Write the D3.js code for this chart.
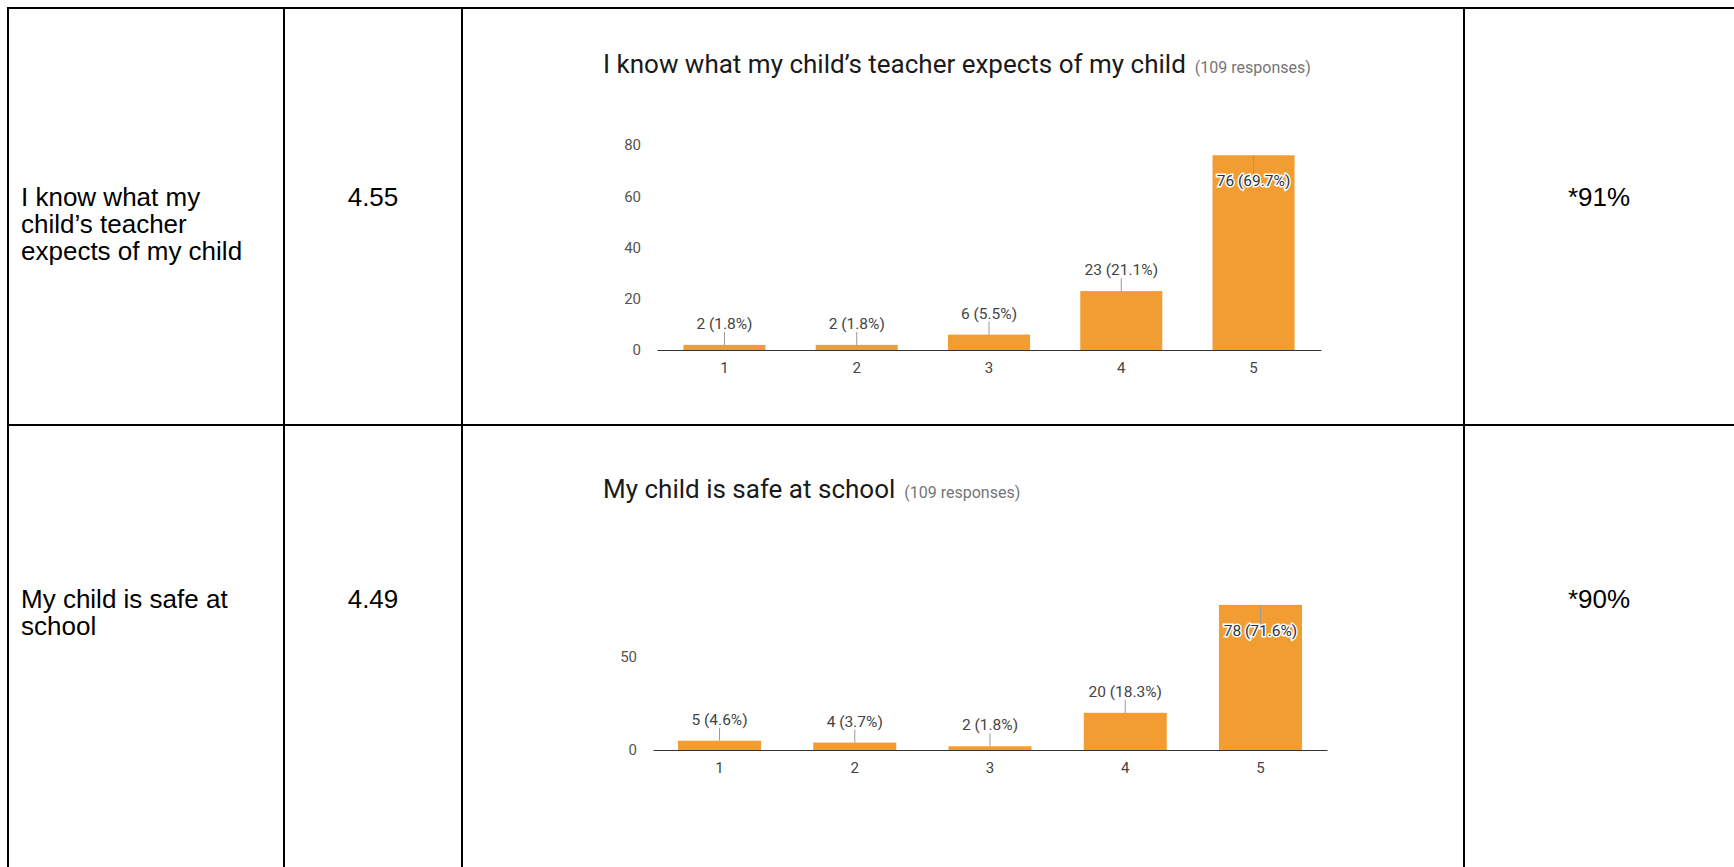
<!DOCTYPE html>
<html>
<head>
<meta charset="utf-8">
<script src="https://cdn.jsdelivr.net/npm/d3@7"></script>
<style>
  body { margin: 0; background: #fff; }
  svg { display: block; }
</style>
</head>
<body>
<script>
// table rows
const statements = [
  ["I know what my", "child’s teacher", "expects of my child"],
  ["My child is safe at", "school"]
];
const means = ["4.55", "4.49"];
const agreeShare = ["*91%", "*90%"];

// chart data
const chartTitles = ["I know what my child’s teacher expects of my child", "My child is safe at school"];
const responses = 109;
const ratings = ["1", "2", "3", "4", "5"];
const countsTeacher = [2, 2, 6, 23, 76];
const countsSafe = [5, 4, 2, 20, 78];
const ticksTeacher = [0, 20, 40, 60, 80];
const ticksSafe = [0, 50];

const width = 1734, height = 867;
const barColor = "#f29d32";

const svg = d3.select("body").append("svg")
    .attr("width", width)
    .attr("height", height);

// grid lines of the table
const colX = [8, 284, 462, 1464];
const rowY = [8, 425];
const grid = svg.append("g").attr("stroke", "#000").attr("stroke-width", 2);
colX.forEach(x => grid.append("line").attr("x1", x).attr("x2", x).attr("y1", 7).attr("y2", height));
rowY.forEach(y => grid.append("line").attr("x1", 7).attr("x2", width).attr("y1", y).attr("y2", y));

// cell text
const cellFont = "'Liberation Sans', Arial, sans-serif";
const firstBaseline = [206, 608];
const lineGap = 27;
statements.forEach((lines, i) => {
    svg.append("g").selectAll("text")
        .data(lines)
        .enter().append("text")
        .attr("x", 21)
        .attr("y", (d, j) => firstBaseline[i] + j * lineGap)
        .style("font", `26px ${cellFont}`)
        .attr("fill", "#000")
        .text(d => d);
    svg.append("text")
        .attr("x", (colX[1] + colX[2]) / 2)
        .attr("y", firstBaseline[i])
        .attr("text-anchor", "middle")
        .style("font", `26px ${cellFont}`)
        .text(means[i]);
    svg.append("text")
        .attr("x", (colX[3] + width) / 2)
        .attr("y", firstBaseline[i])
        .attr("text-anchor", "middle")
        .style("font", `26px ${cellFont}`)
        .text(agreeShare[i]);
});

// one google-forms style bar chart
function drawChart(opt) {
    const g = svg.append("g");
    const x = d3.scaleBand()
        .domain(ratings)
        .range([opt.left, opt.right])
        .paddingInner(opt.padIn)
        .paddingOuter(opt.padOut);
    const y = d3.scaleLinear()
        .domain([0, opt.yMax])
        .range([opt.zero, opt.top]);

    // title + response count
    const title = g.append("text")
        .attr("x", 603)
        .attr("y", opt.titleY)
        .style("font", "26px Roboto, sans-serif")
        .attr("fill", "#1a1a1a")
        .text(opt.title);
    const tw = title.node().getComputedTextLength();
    g.append("text")
        .attr("x", 603 + tw + 9)
        .attr("y", opt.titleY)
        .style("font", "16px Roboto, sans-serif")
        .attr("fill", "#757575")
        .text(`(${responses} responses)`);

    // y axis labels only
    const yAxis = d3.axisLeft(y).tickValues(opt.ticks).tickSize(0).tickPadding(16);
    g.append("g")
        .attr("transform", `translate(${opt.left},0)`)
        .call(yAxis)
        .call(a => a.select(".domain").remove())
        .call(a => a.selectAll("text")
            .style("font", "15px Roboto, sans-serif")
            .attr("fill", "#555"));

    // bars
    g.append("g").selectAll("rect")
        .data(opt.counts)
        .enter().append("rect")
        .attr("x", (d, i) => x(ratings[i]))
        .attr("width", x.bandwidth())
        .attr("y", d => y(d))
        .attr("height", d => opt.zero - y(d))
        .attr("fill", barColor);

    // x axis
    const xAxis = d3.axisBottom(x).tickSize(0).tickPadding(12);
    g.append("g")
        .attr("transform", `translate(0,${opt.zero})`)
        .call(xAxis)
        .call(a => a.select(".domain").attr("stroke", "#333").attr("stroke-width", 1.2))
        .call(a => a.selectAll("text")
            .style("font", "15px Roboto, sans-serif")
            .attr("fill", "#444"));

    // value labels with leader lines; the tall bar gets it inside
    const inside = d => d > opt.yMax * 0.5;
    const labels = g.append("g").selectAll("g")
        .data(opt.counts)
        .enter().append("g")
        .attr("transform", (d, i) => `translate(${x(ratings[i]) + x.bandwidth() / 2},${y(d)})`);
    labels.append("line")
        .attr("y1", 0)
        .attr("y2", d => inside(d) ? 18 : -13)
        .attr("stroke", "#999")
        .attr("stroke-width", 1);
    labels.append("text")
        .attr("y", d => inside(d) ? 31 : -16)
        .attr("text-anchor", "middle")
        .style("font", "15.5px Roboto, sans-serif")
        .attr("fill", d => inside(d) ? "#2b3443" : "#444")
        .attr("stroke", d => inside(d) ? "#fff" : "none")
        .attr("stroke-width", 3)
        .attr("paint-order", "stroke")
        .text(d => `${d} (${(d / responses * 100).toFixed(1)}%)`);
}

drawChart({
    title: chartTitles[0], counts: countsTeacher, ticks: ticksTeacher,
    yMax: 80, zero: 350, top: 145, titleY: 73,
    left: 657, right: 1321, padIn: 0.38, padOut: 0.2
});
drawChart({
    title: chartTitles[1], counts: countsSafe, ticks: ticksSafe,
    yMax: 50, zero: 750, top: 657, titleY: 498,
    left: 653, right: 1327, padIn: 0.386, padOut: 0.185
});
</script>
</body>
</html>
